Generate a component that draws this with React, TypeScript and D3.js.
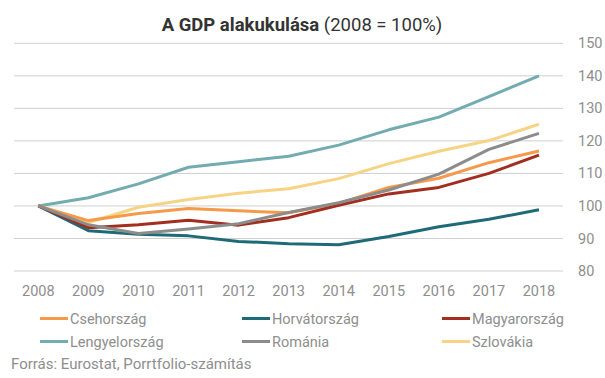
import React from "react";
import * as d3 from "d3";

const years = ["2008","2009","2010","2011","2012","2013","2014","2015","2016","2017","2018"];
const yTicks = [80, 90, 100, 110, 120, 130, 140, 150];

const cseh = [100, 95.5, 97.7, 99.2, 98.5, 97.9, 100.8, 105.7, 108.5, 113.3, 116.9];
const horvat = [100, 92.4, 91.3, 90.8, 89.1, 88.4, 88.1, 90.6, 93.6, 95.9, 98.8];
const magyar = [100, 93.3, 94.2, 95.6, 94.1, 96.4, 100.2, 103.7, 105.7, 110.0, 115.6];
const lengyel = [100, 102.5, 106.8, 111.9, 113.6, 115.3, 118.7, 123.4, 127.3, 133.6, 140.0];
const roman = [100, 94.2, 91.5, 92.9, 94.5, 98.0, 101.0, 104.9, 109.8, 117.4, 122.3];
const szlovak = [100, 94.9, 99.6, 102.0, 103.9, 105.3, 108.4, 113.0, 116.8, 120.1, 125.1];

const seriesNames = ["Csehország", "Horvátország", "Magyarország", "Lengyelország", "Románia", "Szlovákia"];
const seriesValues = [cseh, horvat, magyar, lengyel, roman, szlovak];
const seriesColors = ["#f5994a", "#1e6b77", "#a22e20", "#72abb0", "#8c8c8c", "#f6d385"];
// draw order (back to front)
const drawOrder = [3, 5, 1, 0, 2, 4];

const W = 605, H = 378;

export default function App() {
  const x = d3.scalePoint<string>().domain(years).range([13.3, 564]).padding(0.5);
  const y = d3.scaleLinear().domain([80, 150]).range([271, 43.3]);
  const line = d3.line<number>()
    .x((_, i) => x(years[i]) as number)
    .y((d) => y(d));

  const legendCols = [40, 242, 442];
  const legendRows = [318.5, 341.5];
  const textColor = "#8e8e8e";

  return (
    <svg width={W} height={H} style={{ position: "absolute", left: 0, top: 0, background: "#fff" }}
      fontFamily="Roboto, 'Noto Sans', sans-serif">
      <text x={302} y={31} textAnchor="middle" fontSize={18.5} fill="#333">
        <tspan fontWeight="bold">A GDP alakukulása</tspan>
        <tspan> (2008 = 100%)</tspan>
      </text>
      {yTicks.map((t) => (
        <g key={t}>
          <line x1={14} x2={563} y1={y(t)} y2={y(t)} stroke="#cfcfcf" strokeWidth={1} />
          <text x={578} y={y(t)} dy="0.35em" fontSize={14.5} fill={textColor}>{t}</text>
        </g>
      ))}
      {years.map((yr) => (
        <text key={yr} x={x(yr)} y={296} textAnchor="middle" fontSize={14.5} fill={textColor}>{yr}</text>
      ))}
      {drawOrder.map((i) => (
        <path key={seriesNames[i]} d={line(seriesValues[i]) || ""} fill="none"
          stroke={seriesColors[i]} strokeWidth={3} strokeLinejoin="round" />
      ))}
      {seriesNames.map((n, i) => {
        const cx = legendCols[i % 3];
        const cy = legendRows[Math.floor(i / 3)];
        return (
          <g key={n}>
            <line x1={cx} x2={cx + 28} y1={cy} y2={cy} stroke={seriesColors[i]} strokeWidth={3} />
            <text x={cx + 30} y={cy} dy="0.35em" fontSize={14.5} fill={textColor}>{n}</text>
          </g>
        );
      })}
      <text x={11} y={369} fontSize={15} fill={textColor}>Forrás: Eurostat, Porrtfolio-számítás</text>
    </svg>
  );
}
